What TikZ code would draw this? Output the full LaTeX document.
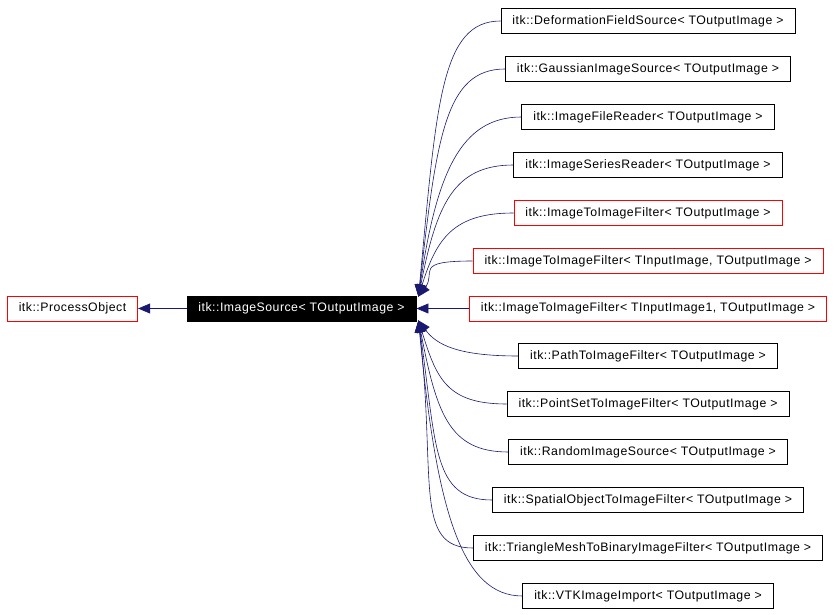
\documentclass[tikz,border=0pt]{standalone}
\usepackage{fontspec}
\setmainfont[LetterSpace=4]{Liberation Sans}
\usetikzlibrary{arrows.meta,calc}
\definecolor{edge-blue}{HTML}{191970}

\begin{document}
\begin{tikzpicture}[x=1pt, y=-1pt,
      every node/.style={font=\fontsize{12.3}{14}\selectfont},
      cls/.style={draw, line width=0.8pt, minimum height=25pt, inner xsep=11.5pt},
      inh/.style={edge-blue, line width=0.6pt, -{Triangle[length=12pt,width=10pt]}}]
    \useasboundingbox (0,0) rectangle (836,615);
    % base classes
    \node[cls, draw=red] (PO) at (72.5,308.5) {itk::ProcessObject};
    \node[cls, fill=black, text=white] (IS) at (301.5,308.5) {itk::ImageSource< TOutputImage >};
    \draw[inh] (IS.west) -- (PO.east);
    % derived classes
    \foreach \i/\yy/\lbl/\clr in {
        1/21/{itk::DeformationFieldSource< TOutputImage >}/black,
        2/69/{itk::GaussianImageSource< TOutputImage >}/black,
        3/117/{itk::ImageFileReader< TOutputImage >}/black,
        4/165/{itk::ImageSeriesReader< TOutputImage >}/black,
        5/213/{itk::ImageToImageFilter< TOutputImage >}/red,
        6/261/{itk::ImageToImageFilter< TInputImage, TOutputImage >}/red,
        7/308.5/{itk::ImageToImageFilter< TInputImage1, TOutputImage >}/red,
        8/356/{itk::PathToImageFilter< TOutputImage >}/black,
        9/404/{itk::PointSetToImageFilter< TOutputImage >}/black,
        10/452/{itk::RandomImageSource< TOutputImage >}/black,
        11/500/{itk::SpatialObjectToImageFilter< TOutputImage >}/black,
        12/548/{itk::TriangleMeshToBinaryImageFilter< TOutputImage >}/black,
        13/596/{itk::VTKImageImport< TOutputImage >}/black} {
      \node[cls, draw=\clr] (C\i) at (648,\yy) {\lbl};
    }
    \coordinate (tipU) at ($(IS.north east)+(2,1)$);
    \coordinate (tipD) at ($(IS.south east)+(2,-1)$);
    \foreach \i/\yy in {1/21,2/69,3/117,4/165,5/213,6/261}
      \draw[inh] (C\i.west) .. controls +(-60,0) and +(18,{0.7*(\yy-296)}) .. (tipU);
    \draw[inh] (C7.west) -- (IS.east);
    \foreach \i/\yy in {8/356,9/404,10/452,11/500,12/548,13/596}
      \draw[inh] (C\i.west) .. controls +(-60,0) and +(18,{0.7*(\yy-321)}) .. (tipD);
  \end{tikzpicture}
\end{document}
